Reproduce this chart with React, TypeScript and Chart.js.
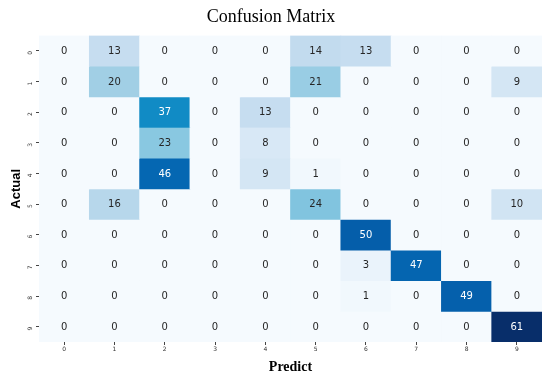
import React, { useEffect, useRef } from "react";
import { Chart, registerables } from "chart.js";

Chart.register(...registerables);

// ---- data ----
const predictLabels = ["0", "1", "2", "3", "4", "5", "6", "7", "8", "9"];
const actualLabels = ["0", "1", "2", "3", "4", "5", "6", "7", "8", "9"];

const actual0 = [0, 13, 0, 0, 0, 14, 13, 0, 0, 0];
const actual1 = [0, 20, 0, 0, 0, 21, 0, 0, 0, 9];
const actual2 = [0, 0, 37, 0, 13, 0, 0, 0, 0, 0];
const actual3 = [0, 0, 23, 0, 8, 0, 0, 0, 0, 0];
const actual4 = [0, 0, 46, 0, 9, 1, 0, 0, 0, 0];
const actual5 = [0, 16, 0, 0, 0, 24, 0, 0, 0, 10];
const actual6 = [0, 0, 0, 0, 0, 0, 50, 0, 0, 0];
const actual7 = [0, 0, 0, 0, 0, 0, 3, 47, 0, 0];
const actual8 = [0, 0, 0, 0, 0, 0, 1, 0, 49, 0];
const actual9 = [0, 0, 0, 0, 0, 0, 0, 0, 0, 61];

const matrix = [actual0, actual1, actual2, actual3, actual4, actual5, actual6, actual7, actual8, actual9];

// ---- colour map (Blues-like, as seen in the picture) ----
const colorStops: [number, number[]][] = [
  [0.0, [245, 250, 254]],
  [0.05, [234, 243, 251]],
  [0.14, [214, 231, 245]],
  [0.22, [197, 220, 239]],
  [0.33, [160, 207, 229]],
  [0.38, [136, 200, 225]],
  [0.61, [15, 138, 197]],
  [0.75, [5, 104, 178]],
  [0.82, [5, 94, 170]],
  [0.9, [8, 75, 145]],
  [1.0, [8, 46, 106]],
];

function cmap(t: number): string {
  t = Math.max(0, Math.min(1, t));
  for (let i = 1; i < colorStops.length; i++) {
    const [t1, c1] = colorStops[i];
    const [t0, c0] = colorStops[i - 1];
    if (t <= t1) {
      const f = (t - t0) / (t1 - t0);
      const c = c0.map((v, k) => Math.round(v + (c1[k] - v) * f));
      return `rgb(${c[0]},${c[1]},${c[2]})`;
    }
  }
  const c = colorStops[colorStops.length - 1][1];
  return `rgb(${c[0]},${c[1]},${c[2]})`;
}

const vmax = Math.max(...matrix.flat());

const cellTextPlugin = {
  id: "cellText",
  afterDatasetsDraw(chart: any) {
    const ctx = chart.ctx;
    ctx.save();
    ctx.font = "10px 'DejaVu Sans'";
    ctx.textAlign = "center";
    ctx.textBaseline = "middle";
    chart.data.datasets.forEach((ds: any, di: number) => {
      const meta = chart.getDatasetMeta(di);
      meta.data.forEach((el: any, i: number) => {
        const v = ds.data[i].v;
        const t = v / vmax;
        ctx.fillStyle = t > 0.55 ? "#ffffff" : "#262626";
        const cy = (el.y + el.base) / 2;
        ctx.fillText(String(v), el.x, cy + 0.5);
      });
    });
    ctx.restore();
  },
};

export default function App() {
  const canvasRef = useRef<HTMLCanvasElement | null>(null);

  useEffect(() => {
    document.body.style.margin = "0";
    const canvas = canvasRef.current;
    if (!canvas) return;

    const datasets = matrix.map((row, r) => ({
      label: `Actual ${actualLabels[r]}`,
      data: row.map((v, c) => ({ x: predictLabels[c], y: [r, r + 1], v })),
      backgroundColor: row.map((v) => cmap(v / vmax)),
      borderWidth: 0,
      barPercentage: 1,
      categoryPercentage: 1,
      grouped: false,
    }));

    const chart = new Chart(canvas, {
      type: "bar",
      data: { labels: predictLabels, datasets: datasets as any },
      options: {
        animation: false,
        responsive: false,
        devicePixelRatio: 1,
        layout: { padding: { left: 0, right: 8, top: 0, bottom: 0 } },
        plugins: {
          legend: { display: false },
          tooltip: { enabled: false },
          title: {
            display: true,
            text: "Confusion Matrix",
            color: "#000",
            font: { family: "'Liberation Serif', 'Times New Roman', serif", size: 18, weight: "normal" },
            padding: { top: 6, bottom: 8 },
          },
        },
        scales: {
          x: {
            type: "category",
            offset: true,
            grid: {
              display: true,
              drawOnChartArea: false,
              drawTicks: true,
              offset: false,
              tickLength: 3,
              color: "#444",
            },
            border: { display: false },
            ticks: {
              font: { family: "'DejaVu Sans'", size: 6 },
              color: "#333",
              padding: 1,
              maxRotation: 0,
              minRotation: 0,
            },
            title: {
              display: true,
              text: "Predict",
              color: "#000",
              font: { family: "'Liberation Serif', 'Times New Roman', serif", size: 14, weight: "bold" },
              padding: { top: 0, bottom: 2.5 },
            },
            afterFit: (scale: any) => {
              scale.height = 36;
            },
          },
          y: {
            type: "linear",
            min: 0,
            max: 10,
            reverse: true,
            grid: {
              display: true,
              drawOnChartArea: false,
              drawTicks: true,
              tickLength: 3,
              color: "#444",
            },
            border: { display: false },
            afterBuildTicks: (scale: any) => {
              scale.ticks = actualLabels.map((_, i) => ({ value: i + 0.5 }));
            },
            ticks: {
              font: { family: "'DejaVu Sans'", size: 6 },
              color: "#333",
              padding: 6,
              minRotation: 90,
              maxRotation: 90,
              callback: (value: any) => actualLabels[Math.floor(Number(value))] ?? "",
            },
            title: {
              display: true,
              text: "Actual",
              color: "#000",
              font: { family: "'Liberation Sans', Arial, sans-serif", size: 13, weight: "bold" },
              padding: { top: 9, bottom: 0 },
            },
            afterFit: (scale: any) => {
              scale.width = 39;
            },
          },
        },
      },
      plugins: [cellTextPlugin],
    });

    return () => chart.destroy();
  }, []);

  return (
    <div style={{ width: 550, height: 378, background: "#fff" }}>
      <canvas ref={canvasRef} width={550} height={378} style={{ display: "block" }} />
    </div>
  );
}
